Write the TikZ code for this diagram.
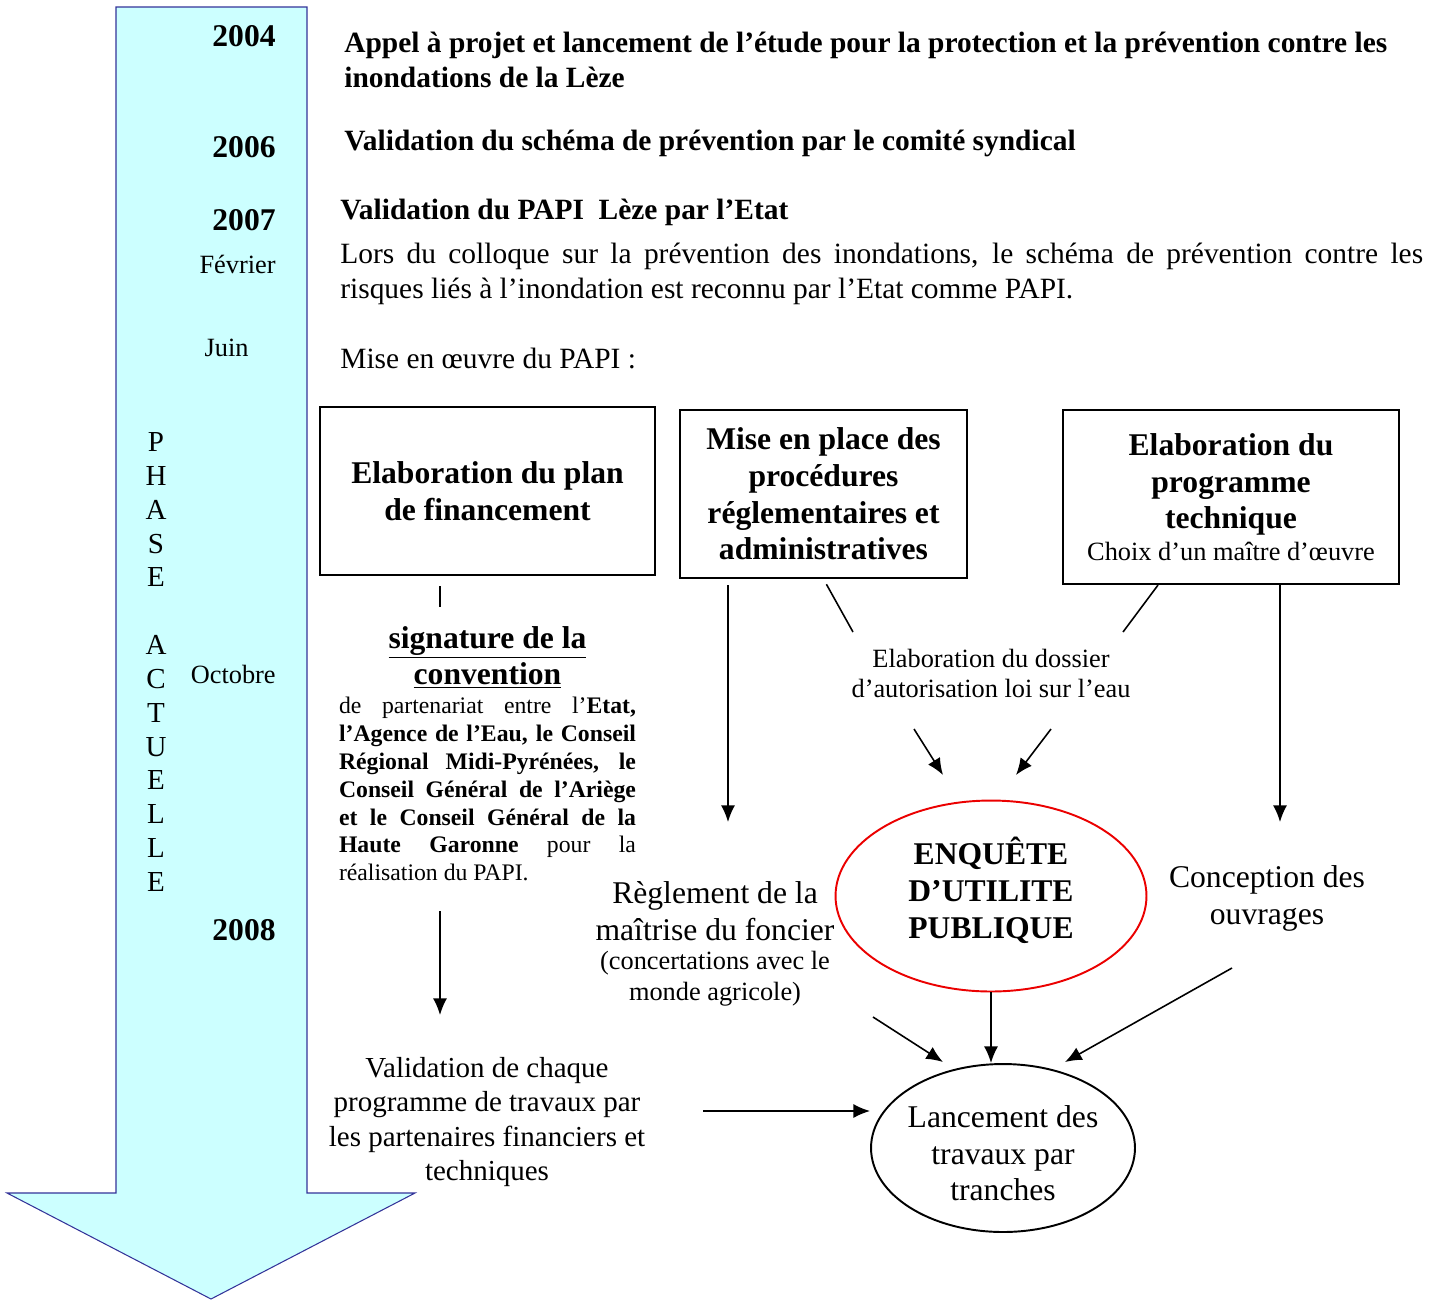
\documentclass[tikz,border=0pt]{standalone}
\usepackage{fontspec}
\setmainfont{Liberation Serif}
\usepackage{xcolor}
\usepackage{tikz}
\usetikzlibrary{arrows.meta,positioning,shapes.geometric}
\definecolor{phasefill}{RGB}{204,255,255}
\definecolor{phasedraw}{RGB}{51,51,153}
\definecolor{enqred}{RGB}{235,0,0}
\newcommand{\fs}[2]{\fontsize{#1}{#2}\selectfont}
\newcommand{\jl}[2]{\makebox[#1][s]{#2}}

\begin{document}
\begin{tikzpicture}[x=0.02cm,y=-0.02cm,every node/.append style={execute at begin node={\spaceskip=0pt\xspaceskip=0pt}}]
\tikzset{arr/.style={-{Latex[length=9.5pt,width=8pt]},line width=0.9pt},
link/.style={line width=0.9pt},
year/.style={anchor=east,inner sep=0,font=\fs{18}{21}\bfseries},
month/.style={anchor=east,inner sep=0,font=\fs{15}{18}},
lead/.style={anchor=west,inner sep=0,align=left,font=\fs{16.75}{19.5}\bfseries},
papi/.style={draw,line width=1.2pt,inner sep=0,align=center,font=\fs{18}{20.9}\bfseries},
free/.style={inner sep=0,align=center,font=\fs{18}{21}}}
\useasboundingbox (0,0) rectangle (1440,1299);

\draw[fill=phasefill,draw=phasedraw,line width=0.6pt] (116,7) -- (307,7) -- (307,1193) -- (415,1193) -- (211,1299) -- (7,1193) -- (116,1193) -- cycle;

\node[year] (y2004) at (276,36) {2004};
\node[year] (y2006) at (276,147) {2006};
\node[year] (y2007) at (276,220) {2007};
\node[month] (fev) at (276,264) {Février};
\node[month] (juin) at (249,348) {Juin};
\node[month] (oct) at (276,674) {Octobre};
\node[year] (y2008) at (276,930) {2008};
\node[inner sep=0,align=center,font=\fs{16.5}{19.25}] (phase) at (156,662) {P\\H\\A\\S\\E\\\mbox{}\\A\\C\\T\\U\\E\\L\\L\\E};

\node[lead] (t2004) at (344,60) {Appel à projet et lancement de l’étude pour la protection et la prévention contre les\\inondations de la Lèze};
\node[lead] (t2006) at (344,143) {Validation du schéma de prévention par le comité syndical};
\node[lead] (t2007) at (340,212) {Validation du PAPI\ \ Lèze par l’Etat};
\node[anchor=west,inner sep=0,text width=21.66cm,align=left,font=\fs{16.75}{19.9}] (tfev) at (340,274) {\jl{21.66cm}{Lors du colloque sur la prévention des inondations, le schéma de prévention contre les}\\risques liés à l’inondation est reconnu par l’Etat comme PAPI.};
\node[anchor=west,inner sep=0,font=\fs{16.75}{19.9}] (tjuin) at (340,358) {Mise en œuvre du PAPI :};

\node[papi,minimum width=6.7cm,minimum height=3.36cm] (financement) at (487.5,491) {Elaboration du plan\\de financement};
\node[papi,minimum width=5.74cm,minimum height=3.36cm] (procedures) at (823.5,494) {Mise en place des\\procédures\\réglementaires et\\administratives};
\node[papi,minimum width=6.72cm,minimum height=3.48cm] (programme) at (1231,497) {Elaboration du\\programme\\technique\\[-3pt]{\fs{15}{17}\mdseries Choix d’un maître d’œuvre}};

\node[inner sep=0,align=center,font=\fs{18}{20.5}\bfseries] (signature) at (487.5,657) {\underline{signature de la}\\\underline{convention}};
\node[inner sep=0,text width=5.94cm,align=left,font=\fs{13.5}{15.9}] (partenariat) at (487.5,789) {\jl{5.94cm}{de partenariat entre l’\textbf{Etat,}}\\
\jl{5.94cm}{\textbf{l’Agence de l’Eau, le Conseil}}\\
\jl{5.94cm}{\textbf{Régional Midi-Pyrénées, le}}\\
\jl{5.94cm}{\textbf{Conseil Général de l’Ariège}}\\
\jl{5.94cm}{\textbf{et le Conseil Général de la}}\\
\jl{5.94cm}{\textbf{Haute Garonne} pour la}\\
réalisation du PAPI.};
\node[free,font=\fs{16.5}{19.4}] (validation) at (487,1122) {Validation de chaque\\programme de travaux par\\les partenaires financiers et\\techniques};

\node[free,font=\fs{15}{17.6}] (dossier) at (991,673.5) {Elaboration du dossier\\d’autorisation loi sur l’eau};
\node[ellipse,draw=enqred,line width=1.1pt,minimum width=6.22cm,minimum height=3.82cm,inner sep=0] (enquete) at (991,896) {};
\node[free,font=\fs{18}{21}\bfseries] (enqtext) at (991,890) {ENQUÊTE\\D’UTILITE\\PUBLIQUE};
\node[free] (foncier) at (715,911.5) {Règlement de la\\maîtrise du foncier};
\node[free,font=\fs{15}{17.6}] (concert) at (715,979) {(concertations avec le\\monde agricole)};
\node[free] (conception) at (1267,898) {Conception des\\ouvrages};
\node[ellipse,draw,line width=1.1pt,minimum width=5.28cm,minimum height=3.36cm,inner sep=0] (lancement) at (1003,1148) {};
\node[free,font=\fs{18}{20.8}] (lantext) at (1003,1153.5) {Lancement des\\travaux par\\tranches};

\coordinate (sigtop) at (440,607);
\coordinate (valtop) at (440,1015);
\coordinate (valout) at (703,1111);
\coordinate (foncin) at (728,822);
\coordinate (dosl) at (853,632);
\coordinate (dosr) at (1123,632);
\coordinate (concin) at (1280,822);
\coordinate (enqfroml) at (914,729);
\coordinate (enql) at (943,775);
\coordinate (enqfromr) at (1051,729);
\coordinate (enqr) at (1016,775);
\coordinate (lanfroml) at (873,1017);
\coordinate (lanl) at (943,1062);
\coordinate (lanfromr) at (1232,968);
\coordinate (lanr) at (1065,1062);

\draw[link,shorten <=5.7pt] (financement.south -| sigtop) -- (sigtop);
\draw[arr,shorten <=17pt] (partenariat.south -| valtop) -- (valtop);
\draw[arr] (valout) -- (valout -| lancement.west);
\draw[arr,shorten <=3.4pt] (procedures.south -| foncin) -- (foncin);
\draw[link,shorten <=3.4pt] (procedures.south) -- (dosl);
\draw[link] ([xshift=-1.46cm]programme.south) -- (dosr);
\draw[arr] (programme.south -| concin) -- (concin);
\draw[arr] (enqfroml) -- (enql);
\draw[arr] (enqfromr) -- (enqr);
\draw[arr] (enquete.south) -- (enquete.south |- lancement.north);
\draw[arr] (lanfroml) -- (lanl);
\draw[arr] (lanfromr) -- (lanr);
\end{tikzpicture}
\end{document}
